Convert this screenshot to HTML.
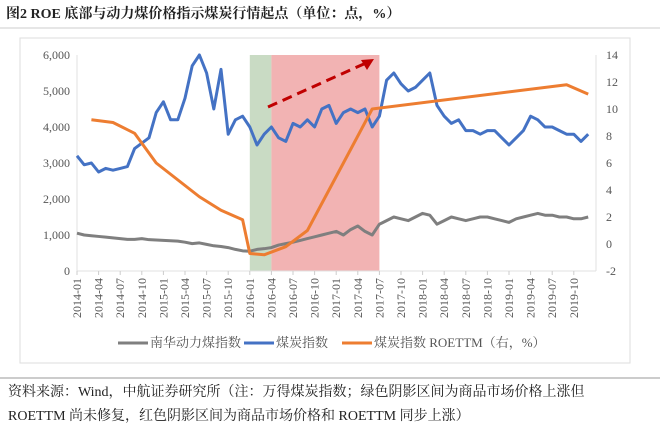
<!DOCTYPE html>
<html><head><meta charset="utf-8"><style>
body{margin:0;background:#fff;width:660px;height:431px;overflow:hidden;font-family:"Liberation Serif","Noto Serif CJK SC",serif}
</style></head><body>
<svg width="660" height="431" xmlns="http://www.w3.org/2000/svg">
<text x="6" y="18" font-size="14" font-weight="bold" fill="#222">图2  ROE 底部与动力煤价格指示煤炭行情起点（单位：点，%）</text>
<line x1="0" y1="28" x2="660" y2="28" stroke="#ccc"/>
<rect x="20" y="38" width="610" height="325" fill="none" stroke="#ddd"/>
<g id="plot"></g>
<g font-size="13" fill="#555">
<line x1="118" y1="343" x2="148" y2="343" stroke="#7f7f7f" stroke-width="3"/><text x="150" y="347">南华动力煤指数</text>
<line x1="244" y1="343" x2="274" y2="343" stroke="#4472c4" stroke-width="3"/><text x="276" y="347">煤炭指数</text>
<line x1="342" y1="343" x2="372" y2="343" stroke="#ed7d31" stroke-width="3"/><text x="374" y="347">煤炭指数 ROETTM（右，%）</text>
</g>
<line x1="0" y1="378" x2="660" y2="378" stroke="#999"/>
<text x="8" y="396" font-size="14" fill="#222">资料来源：Wind，中航证券研究所（注：万得煤炭指数；绿色阴影区间为商品市场价格上涨但</text>
<text x="8" y="420" font-size="14" fill="#222">ROETTM 尚未修复，红色阴影区间为商品市场价格和 ROETTM 同步上涨）</text>
</svg>
<script>
const months=[];for(let i=0;i<72;i++)months.push(i);
const coalIndex=[3200,2950,3000,2750,2850,2800,2850,2900,3400,3550,3700,4400,4700,4200,4200,4800,5700,6000,5500,4500,5600,3800,4200,4300,4000,3500,3800,4000,3700,3600,4100,4000,4200,4000,4500,4600,4100,4400,4500,4400,4500,4000,4300,5300,5500,5200,5000,5100,5300,5500,4600,4300,4100,4200,3900,3900,3800,3900,3900,3700,3500,3700,3900,4300,4200,4000,4000,3900,3800,3800,3600,3800];
const nanhua=[1050,1000,980,960,940,920,900,880,880,900,870,860,850,840,830,800,760,780,740,700,680,650,600,560,550,600,620,650,720,760,800,850,900,950,1000,1050,1100,1000,1150,1250,1100,1000,1300,1400,1500,1450,1400,1500,1600,1550,1300,1400,1500,1450,1400,1450,1500,1500,1450,1400,1350,1450,1500,1550,1600,1550,1550,1500,1500,1450,1450,1500];
const roeMonths=[2,5,8,11,17,20,23,24,26,29,32,38,41,68,71];
const roeValues=[9.2,9.0,8.2,6.0,3.5,2.5,1.8,-0.7,-0.8,-0.2,1.0,7.0,10.0,11.8,11.1];
const leftTicks=[0,1000,2000,3000,4000,5000,6000];
const rightTicks=[-2,0,2,4,6,8,10,12,14];
const xLabels=["2014-01","2014-04","2014-07","2014-10","2015-01","2015-04","2015-07","2015-10","2016-01","2016-04","2016-07","2016-10","2017-01","2017-04","2017-07","2017-10","2018-01","2018-04","2018-07","2018-10","2019-01","2019-04","2019-07","2019-10"];
const greenBand=[24,27], redBand=[27,42];
const X0=77,MW=7.2,TOP=55,BOT=271,L=77,R=596;
const x=m=>X0+m*MW, yl=v=>BOT-(v/6000)*(BOT-TOP), yr=v=>BOT-((v+2)/16)*(BOT-TOP);
const NS="http://www.w3.org/2000/svg",g=document.getElementById('plot');
function mk(t,a){const e=document.createElementNS(NS,t);for(const k in a)e.setAttribute(k,a[k]);g.appendChild(e);return e;}
let e=mk('rect',{x:x(greenBand[0]),y:TOP,width:x(greenBand[1])-x(greenBand[0]),height:BOT-TOP,fill:'#c9dbc4'});


e=mk('rect',{x:x(redBand[0]),y:TOP,width:x(redBand[1])-x(redBand[0]),height:BOT-TOP,fill:'#f2b3b3'});


mk('line',{x1:L,y1:TOP,x2:L,y2:BOT,stroke:'#e0e0e0'});
mk('line',{x1:R,y1:TOP,x2:R,y2:BOT,stroke:'#e0e0e0'});
mk('line',{x1:L,y1:BOT,x2:R,y2:BOT,stroke:'#e0e0e0'});
leftTicks.forEach(v=>{e=mk('text',{x:L-7,y:yl(v)+4,'text-anchor':'end','font-size':12,fill:'#555'});e.textContent=v.toLocaleString('en-US');

});
rightTicks.forEach(v=>{e=mk('text',{x:R+10,y:yr(v)+4,'font-size':12,fill:'#555'});e.textContent=v;

});
xLabels.forEach((s,i)=>{const xx=x(i*3);mk('line',{x1:xx,y1:BOT,x2:xx,y2:BOT+4,stroke:'#ccc'});
e=mk('text',{x:0,y:0,'font-size':12,fill:'#555','text-anchor':'end',transform:`translate(${xx+4},${BOT+7}) rotate(-90)`});e.textContent=s;

});
function line(ms,vs,f,c,n){e=mk('polyline',{points:ms.map((m,i)=>x(m)+','+f(vs[i])).join(' '),fill:'none',stroke:c,'stroke-width':3,'stroke-linejoin':'round'});

}
line(months,nanhua,yl,'#7f7f7f','nanhua-coal-line');
line(months,coalIndex.map(v=>Math.min(v,6000)),yl,'#4472c4','coal-index-line');
line(roeMonths,roeValues,yr,'#ed7d31','roettm-line');
e=mk('line',{x1:268,y1:107,x2:366,y2:63,stroke:'#c00000','stroke-width':3,'stroke-dasharray':'10 6'});


e=mk('polygon',{points:'374,59 361,60 367,70',fill:'#c00000'});


</script>
</body></html>
